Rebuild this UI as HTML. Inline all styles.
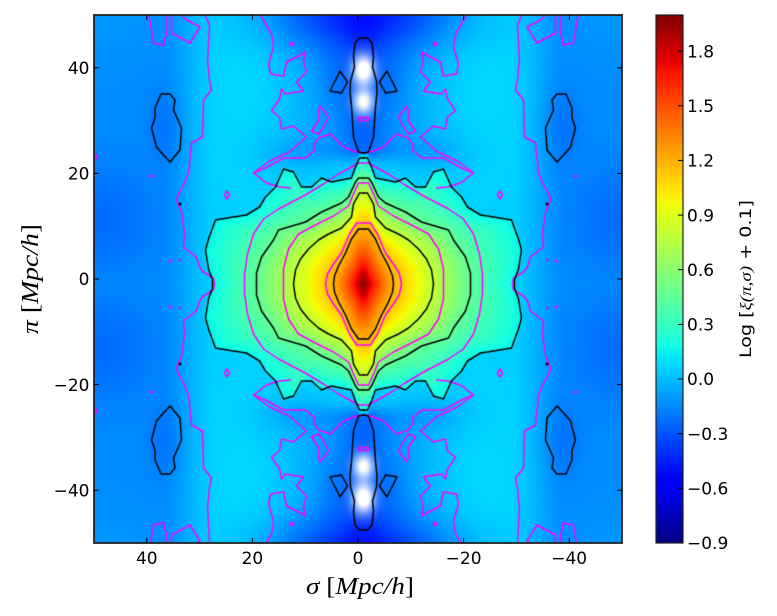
<!DOCTYPE html>
<html><head><meta charset="utf-8">
<style>
html,body{margin:0;padding:0;background:#fff;}
#wrap{position:relative;width:777px;height:616px;overflow:hidden;background:#fff;}
#cv{position:absolute;left:94px;top:15px;}
svg{position:absolute;left:0;top:0;}
</style></head><body><div id="wrap">
<canvas id="cv" width="528" height="528"></canvas>
<svg width="777" height="616" viewBox="0 0 777 616" xmlns="http://www.w3.org/2000/svg">
<defs>
<linearGradient id="jet" x1="0" y1="1" x2="0" y2="0">
<stop offset="0" stop-color="rgb(0,0,128)"/>
<stop offset="0.11" stop-color="rgb(0,0,255)"/>
<stop offset="0.125" stop-color="rgb(0,0,255)"/>
<stop offset="0.34" stop-color="rgb(0,219,255)"/>
<stop offset="0.35" stop-color="rgb(0,229,247)"/>
<stop offset="0.375" stop-color="rgb(21,255,226)"/>
<stop offset="0.64" stop-color="rgb(238,255,8)"/>
<stop offset="0.65" stop-color="rgb(247,246,0)"/>
<stop offset="0.66" stop-color="rgb(255,236,0)"/>
<stop offset="0.89" stop-color="rgb(255,19,0)"/>
<stop offset="0.91" stop-color="rgb(232,0,0)"/>
<stop offset="1" stop-color="rgb(128,0,0)"/>
</linearGradient>
</defs>
<rect x="94" y="15" width="528" height="528" fill="none" stroke="#222" stroke-width="1.8"/>
<g stroke="#000" stroke-width="1">
<line x1="146.8" y1="543" x2="146.8" y2="538"/><line x1="252.4" y1="543" x2="252.4" y2="538"/><line x1="358" y1="543" x2="358" y2="538"/><line x1="463.6" y1="543" x2="463.6" y2="538"/><line x1="569.2" y1="543" x2="569.2" y2="538"/>
<line x1="146.8" y1="15" x2="146.8" y2="20"/><line x1="252.4" y1="15" x2="252.4" y2="20"/><line x1="358" y1="15" x2="358" y2="20"/><line x1="463.6" y1="15" x2="463.6" y2="20"/><line x1="569.2" y1="15" x2="569.2" y2="20"/>
<line x1="94" y1="67.8" x2="99" y2="67.8"/><line x1="94" y1="173.4" x2="99" y2="173.4"/><line x1="94" y1="279" x2="99" y2="279"/><line x1="94" y1="384.6" x2="99" y2="384.6"/><line x1="94" y1="490.2" x2="99" y2="490.2"/>
<line x1="622" y1="67.8" x2="617" y2="67.8"/><line x1="622" y1="173.4" x2="617" y2="173.4"/><line x1="622" y1="279" x2="617" y2="279"/><line x1="622" y1="384.6" x2="617" y2="384.6"/><line x1="622" y1="490.2" x2="617" y2="490.2"/>
</g>
<g font-family="DejaVu Sans, Liberation Sans, sans-serif" font-size="17" fill="#000">
<g text-anchor="middle">
<text x="146.8" y="564">40</text><text x="252.4" y="564">20</text><text x="358" y="564">0</text><text x="463.6" y="564">−20</text><text x="569.2" y="564">−40</text>
</g>
<g text-anchor="end">
<text x="89.5" y="74">40</text><text x="89.5" y="179.6">20</text><text x="89.5" y="285.2">0</text><text x="89.5" y="390.8">−20</text><text x="89.5" y="496.4">−40</text>
</g>
</g>
<text x="360" y="594" text-anchor="middle" font-family="Liberation Serif, serif" font-size="24" textLength="108" lengthAdjust="spacingAndGlyphs"><tspan font-style="italic">σ</tspan> [<tspan font-style="italic">Mpc/h</tspan>]</text>
<text transform="translate(38,279) rotate(-90)" text-anchor="middle" font-family="Liberation Serif, serif" font-size="24" textLength="110" lengthAdjust="spacingAndGlyphs"><tspan font-style="italic">π</tspan> [<tspan font-style="italic">Mpc/h</tspan>]</text>
<rect x="656" y="15" width="27" height="528" fill="url(#jet)"/>
<rect x="656" y="15" width="27" height="528" fill="none" stroke="#222" stroke-width="1.2"/>
<g stroke="#000" stroke-width="1">
<line x1="683" y1="51.1" x2="678" y2="51.1"/><line x1="683" y1="105.8" x2="678" y2="105.8"/><line x1="683" y1="160.4" x2="678" y2="160.4"/><line x1="683" y1="215.1" x2="678" y2="215.1"/><line x1="683" y1="269.7" x2="678" y2="269.7"/><line x1="683" y1="324.4" x2="678" y2="324.4"/><line x1="683" y1="379" x2="678" y2="379"/><line x1="683" y1="433.7" x2="678" y2="433.7"/><line x1="683" y1="488.3" x2="678" y2="488.3"/>
</g>
<g font-family="DejaVu Sans, Liberation Sans, sans-serif" font-size="17" fill="#000">
<text x="687" y="57.3">1.8</text><text x="687" y="112">1.5</text><text x="687" y="166.6">1.2</text><text x="687" y="221.3">0.9</text><text x="687" y="275.9">0.6</text><text x="687" y="330.6">0.3</text><text x="687" y="385.2">0.0</text><text x="687" y="439.9">−0.3</text><text x="687" y="494.5">−0.6</text><text x="687" y="549.2">−0.9</text>
</g>
<text transform="translate(751,279) rotate(-90)" text-anchor="middle" font-family="DejaVu Sans, Liberation Sans, sans-serif" font-size="16" textLength="158" lengthAdjust="spacingAndGlyphs">Log [<tspan font-family="Liberation Serif, serif" font-style="italic">ξ(π,σ)</tspan> + 0.1]</text>
</svg>
</div>
<script>
(function(){
var cv=document.getElementById('cv'),ctx=cv.getContext('2d');
var W=528,H=528,CX=269.5,CY=269;
var C1=[[0,55],[5,55],[12,45],[18,31],[25,18],[29,8],[30,0]];
var C2=[[0,91],[4,91],[10,80],[12,67],[22,56],[35,50],[45,44],[55,35],[63,25],[68,14],[70,0]];
var C3=[[0,106],[5,106],[8,102],[15,87],[22,81],[42,72],[58,62],[85,54],[90,44],[102,27],[107,11],[107,0]];
var C4=[[0,126],[4,126],[8,117],[12,106],[22,104],[32,102],[42,106],[52,97],[62,97],[70,112],[80,115],[88,97],[98,87],[104,77],[117,69],[130,67],[148,64],[155,45],[158,34],[155,15],[151,4],[151,0]];
var levels=[[C1,1.2],[C2,0.8],[C3,0.45],[C4,0.15]];
function rayR(p,th){var dx=Math.cos(th),dy=Math.sin(th),best=-1;
 for(var i=0;i<p.length-1;i++){var x1=p[i][0],y1=p[i][1],ex=p[i+1][0]-x1,ey=p[i+1][1]-y1;
  var den=dx*ey-dy*ex; if(Math.abs(den)<1e-9)continue;
  var s=(x1*ey-y1*ex)/den,t=(x1*dy-y1*dx)/den;
  if(t>=-1e-6&&t<=1+1e-6&&s>0&&s>best)best=s;}
 return best;}
var NT=721,R=[];
for(var k=0;k<levels.length;k++){var a=new Float32Array(NT),last=levels[k][0][levels[k][0].length-1][0];
 for(var i=0;i<NT;i++){var th=i/(NT-1)*Math.PI/2;var r=rayR(levels[k][0],th);if(r<0)r=last;a[i]=r;last=r;}
 R.push(a);}
for(var k=1;k<R.length;k++)for(var i=0;i<NT;i++)if(R[k][i]<R[k-1][i]+1)R[k][i]=R[k-1][i]+1;
function core(u,w){var rho=Math.sqrt(u*u+w*w),th=Math.atan2(w,u),i=Math.round(th/(Math.PI/2)*(NT-1));
 var r0=R[0][i]; if(rho<r0)return 1.2+0.79*Math.pow(1-rho/r0,1.3);
 for(var k=1;k<R.length;k++){var rk=R[k][i];if(rho<rk){var rp=R[k-1][i],t=(rho-rp)/(rk-rp);return levels[k-1][1]+t*(levels[k][1]-levels[k-1][1]);}}
 return 0.15-0.05*(rho-R[R.length-1][i]);}
function ss(a,b,x){var t=(x-a)/(b-a);t=t<0?0:t>1?1:t;return t*t*(3-2*t);}
function G(u,w,u0,w0,su,sw){var a=(u-u0)/su,b=(w-w0)/sw;return Math.exp(-0.5*(a*a+b*b));}
function bg(u,w){var v=0.05;
 v-=0.19*ss(145,205,u);
 v-=0.09*G(u,w,258,65,35,38);
 v-=0.07*G(u,w,198,157,13,26);
 v+=0.035*G(u,w,115,205,28,65);
 v+=0.03*G(u,w,250,268,35,30);
 v-=0.17*Math.exp(-0.5*(u/50)*(u/50))*ss(112,136,w);
 v-=0.09*Math.exp(-0.5*(u/15)*(u/15))*ss(120,134,w);
 v-=0.08*G(u,w,0,200,16,45);
 v-=0.07*G(u,w,32,205,12,25);
 v-=0.3*G(u,w,25,270,55,26);
 v-=0.07*G(u,w,70,128,28,14);
 return v;}
function jet(x){x=x<0?0:x>1?1:x;var r,g,b;
 r=x<0.35?0:x<0.66?(x-0.35)/0.31:x<0.89?1:1-0.5*(x-0.89)/0.11;
 g=x<0.125?0:x<0.375?(x-0.125)/0.25:x<0.64?1:x<0.91?1-(x-0.64)/0.27:0;
 b=x<0.11?0.5+0.5*x/0.11:x<0.34?1:x<0.65?1-(x-0.34)/0.31:0;
 return [r*255,g*255,b*255];}
var img=ctx.createImageData(W,H),d=img.data;
for(var j=0;j<H;j++){for(var i=0;i<W;i++){
 var u=Math.abs(i+0.5-CX),w=Math.abs(j+0.5-CY);
 var v=Math.max(core(u,w),bg(u,w));
 var c=jet((v+0.9)/2.898);
 var al=Math.min(1,1.2*G(u,w,0,214,8,11))+Math.min(1,1.05*G(u,w,0,182,7.5,9));
 if(al>1)al=1;
 var p=(j*W+i)*4;
 d[p]=c[0]*(1-al)+255*al;d[p+1]=c[1]*(1-al)+255*al;d[p+2]=c[2]*(1-al)+255*al;d[p+3]=255;}}
ctx.putImageData(img,0,0);
var Q=[[1,1],[-1,1],[1,-1],[-1,-1]];
function poly(pts,closed){for(var q=0;q<4;q++){var sx=Q[q][0],sy=Q[q][1];ctx.beginPath();
 for(var k=0;k<pts.length;k++){var x=CX+sx*pts[k][0],y=CY+sy*pts[k][1];if(k)ctx.lineTo(x,y);else ctx.moveTo(x,y);}
 if(closed)ctx.closePath();ctx.stroke();}}
function dot(u,w,r){for(var q=0;q<4;q++){ctx.beginPath();ctx.arc(CX+Q[q][0]*u,CY+Q[q][1]*w,r,0,Math.PI*2);ctx.fill();}}
ctx.lineJoin='round';ctx.lineCap='round';
ctx.strokeStyle='#ff00ff';ctx.fillStyle='#ff00ff';ctx.lineWidth=1.5;
poly([[0,61],[7,61],[14,50],[22,31],[30,20],[36,10],[38,0]]);
poly([[0,101],[5,101],[10,90],[15,78],[30,68],[50,58],[65,50],[75,35],[80,15],[80,0]]);
poly([[0,121],[5,121],[10,118],[25,110],[40,100],[60,88],[85,75],[100,65],[110,50],[116,30],[119,10],[119,0]]);
poly([[160,272],[154,259],[156,224],[154,204],[152,194],[160,184],[161,147],[172,141],[175,111],[179,101],[184,92],[187,84],[182,71],[179,51],[180,37],[167,27],[164,17],[160,12],[150,6],[149,0]]);
poly([[105,272],[92,250],[90,237],[95,220],[93,210],[80,208],[77,222],[65,228],[58,232],[60,223],[57,212],[67,202],[60,193],[78,190],[82,195],[84,185],[92,173],[84,167],[82,155],[70,158],[57,147],[74,132],[94,123],[110,111],[97,101],[84,97],[73,96]]);
poly([[0,131],[7,132],[20,137],[33,150],[45,146],[50,138],[49,134],[58,126],[80,126],[98,116],[110,111]]);
poly([[43.5,178],[35,167],[40,157],[45,150],[52,153],[45,163],[45,173]],true);
poly([[215,272],[210,241],[200,239],[197,251],[197,272]]);
poly([[192,272],[192,251],[173.5,241],[163.5,257],[177,264],[185,272]]);
poly([[136.5,85],[139,89],[136.5,93],[134,89]],true);
poly([[71.8,238],[74,240],[71.8,242],[69.6,240]],true);
poly([[0,163.5],[4.5,163.5],[5.5,165],[4.5,166.5],[0,166.5]]);
poly([[272,120],[266,127],[272,134]]);
dot(193,23,1.6);dot(212,108,1.6);dot(184,24,1.2);
ctx.strokeStyle='#000';ctx.fillStyle='#000';ctx.lineWidth=1.5;
poly(C1);poly(C2);poly(C3);poly(C4);
poly([[0,246],[4,246],[8.5,241],[10,227],[9,217],[13,203],[13.5,192],[12,177],[10,147],[5,132],[0,131]]);
poly([[23.5,213],[16,202],[22,191],[33.5,193]],true);
poly([[202.5,190],[193.5,190],[188.5,184],[190,174],[182,156],[183.5,134],[193.5,122],[200,129],[207,137],[212,156],[208.5,166],[208.5,176]],true);
dot(183.5,80,1.6);
})();
</script>
</body></html>
